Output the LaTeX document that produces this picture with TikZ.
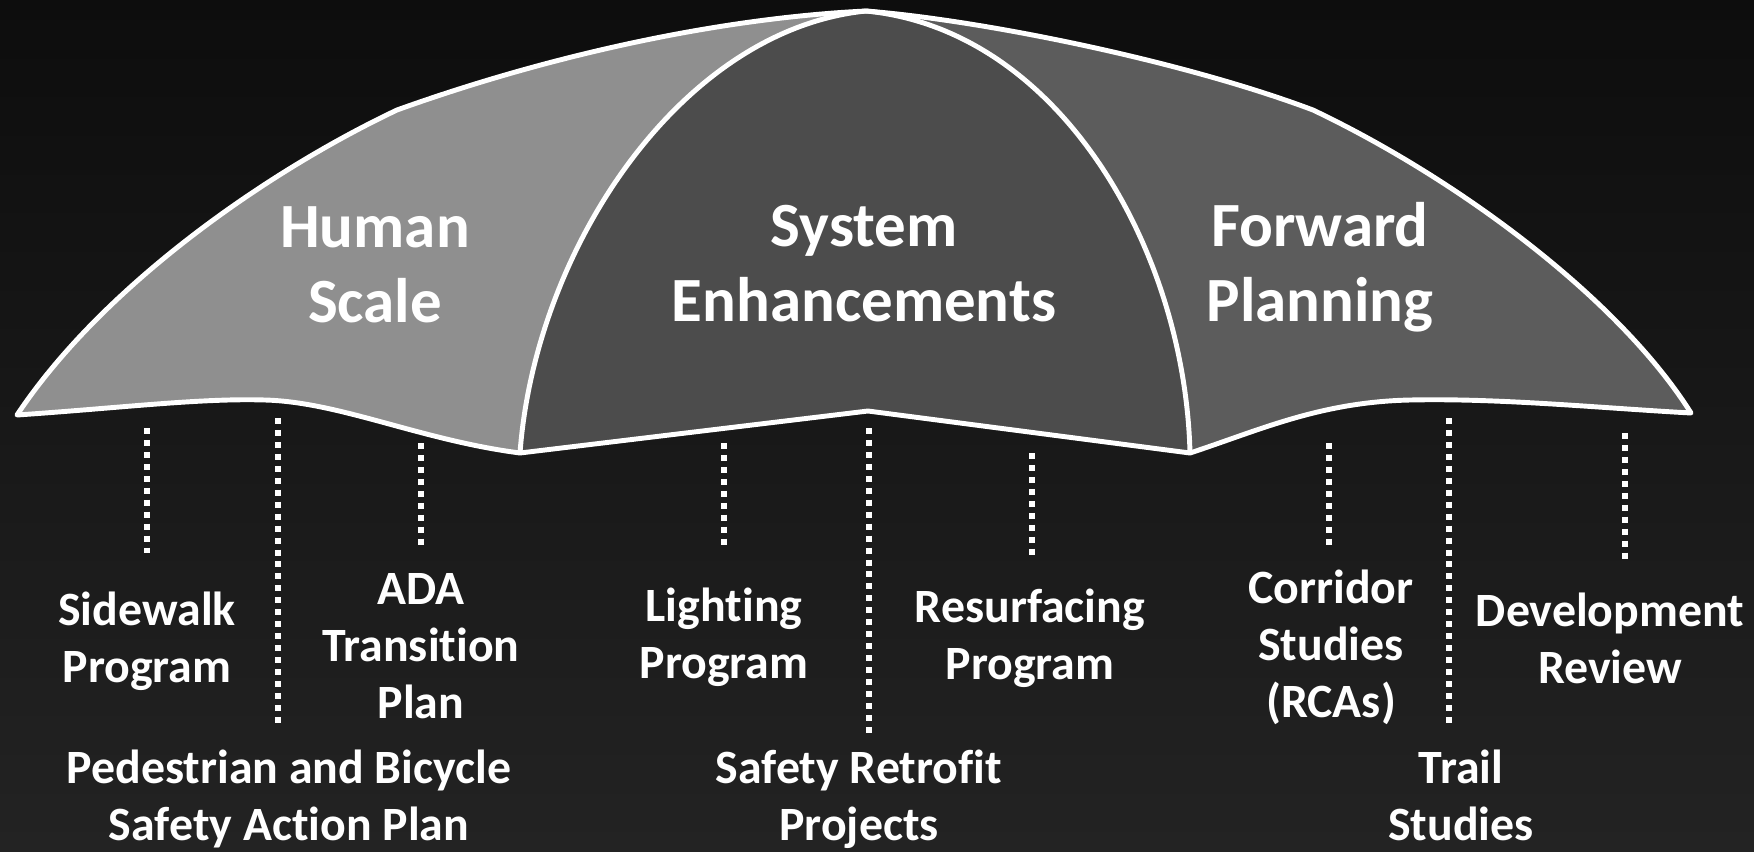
\documentclass[tikz,border=0pt]{standalone}
\usepackage{fontspec}
\setmainfont{Carlito}[Ligatures=NoCommon]
\definecolor{bgtop}{HTML}{0D0D0D}
\definecolor{bgbot}{HTML}{232323}
\definecolor{leftgray}{HTML}{8F8F8F}
\definecolor{midgray}{HTML}{4C4C4C}
\definecolor{rightgray}{HTML}{5C5C5C}
\begin{document}
\begin{tikzpicture}[x=0.01cm,y=-0.01cm,
  outline/.style={draw=white,line width=1.4pt,line join=round},
  dots/.style={draw=white,line width=1.56pt,dash pattern=on 1.7pt off 1.7pt},
  title/.style={text=white,font=\fontsize{17.9pt}{21.3pt}\selectfont\bfseries,align=center,anchor=base,inner sep=0pt},
  item/.style={text=white,font=\fontsize{13.6pt}{16.2pt}\selectfont\bfseries,align=center,anchor=base,inner sep=0pt}]
\shade[top color=bgtop,bottom color=bgbot] (0,0) rectangle (1754,851);
\useasboundingbox (0,0) rectangle (1754,851);
% key points of the umbrella
\coordinate (LT) at (17,415);
\coordinate (A) at (866,11);
\coordinate (K1) at (397,110);
\coordinate (K2) at (1313,110);
\coordinate (RT) at (1691,413);
\coordinate (LB) at (520,453);
\coordinate (RB) at (1190,453);
\coordinate (MB) at (868,411);
\coordinate (LM) at (265,400);
\coordinate (RM) at (1410,400);
% panels
\fill[leftgray] (LT) .. controls (100,290) and (260,175) .. (K1) .. controls (550,55) and (720,18) .. (A) .. controls (680,30) and (535,250) .. (LB) .. controls (420,440) and (340,402) .. (LM) .. controls (200,398) and (120,408) .. (LT) -- cycle;
\fill[midgray] (A) .. controls (680,30) and (535,250) .. (LB) -- (MB) -- (RB) .. controls (1185,250) and (1060,30) .. (A) -- cycle;
\fill[rightgray] (A) .. controls (980,20) and (1180,60) .. (K2) .. controls (1460,180) and (1620,300) .. (RT) .. controls (1600,408) and (1500,398) .. (RM) .. controls (1320,402) and (1260,430) .. (RB) .. controls (1185,250) and (1060,30) .. (A) -- cycle;
% outlines
\draw[outline] (LT) .. controls (100,290) and (260,175) .. (K1) .. controls (550,55) and (720,18) .. (A) .. controls (980,20) and (1180,60) .. (K2) .. controls (1460,180) and (1620,300) .. (RT) .. controls (1600,408) and (1500,398) .. (RM) .. controls (1320,402) and (1260,430) .. (RB) -- (MB) -- (LB) .. controls (420,440) and (340,402) .. (LM) .. controls (200,398) and (120,408) .. (LT) -- cycle;
\draw[outline] (A) .. controls (680,30) and (535,250) .. (LB);
\draw[outline] (A) .. controls (1060,30) and (1185,250) .. (RB);
% titles (anchored at the baseline of the last line)
\node[title] (hs) at (375,322) {Human\\Scale};
\node[title] (se) at (864,321) {System\\Enhancements};
\node[title] (fp) at (1320,321) {Forward\\Planning};
% dotted line ends
\coordinate (d1t) at (147,428); \coordinate (d1b) at (147,553);
\coordinate (d2t) at (278,418); \coordinate (d2b) at (278,728);
\coordinate (d3t) at (421,443); \coordinate (d3b) at (421,547);
\coordinate (d4t) at (724,443); \coordinate (d4b) at (724,547);
\coordinate (d5t) at (869,428); \coordinate (d5b) at (869,737);
\coordinate (d6t) at (1032,453); \coordinate (d6b) at (1032,557);
\coordinate (d7t) at (1329,443); \coordinate (d7b) at (1329,547);
\coordinate (d8t) at (1449,418); \coordinate (d8b) at (1449,728);
\coordinate (d9t) at (1625,433); \coordinate (d9b) at (1625,560);
\foreach \i in {1,...,9} {\draw[dots] (d\i t) -- (d\i b);}
% items
\node[item] (sw) at (147,682) {Sidewalk\\Program};
\node[item] (ada) at (421,718) {ADA\\Transition\\Plan};
\node[item] (lp) at (724,678) {Lighting\\Program};
\node[item] (pb) at (289,840) {Pedestrian and Bicycle\\Safety Action Plan};
\node[item] (sr) at (859,840) {Safety Retrofit\\Projects};
\node[item] (rp) at (1030,679) {Resurfacing\\Program};
\node[item] (cs) at (1331,717) {Corridor\\Studies\\(RCAs)};
\node[item] (dr) at (1610,683) {Development\\Review};
\node[item] (ts) at (1461,840) {Trail\\Studies};
\end{tikzpicture}
\end{document}
